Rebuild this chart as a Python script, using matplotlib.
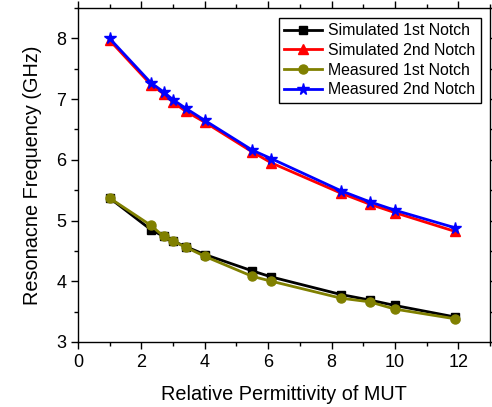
import matplotlib
matplotlib.use("Agg")
import matplotlib.pyplot as plt
from matplotlib.ticker import MultipleLocator

plt.rcParams['font.family'] = ['Liberation Sans', 'DejaVu Sans']

eps = [1, 2.3, 2.7, 3, 3.4, 4, 5.5, 6.1, 8.3, 9.2, 10, 11.9]
sim1 = [5.37, 4.85, 4.74, 4.66, 4.57, 4.44, 4.17, 4.07, 3.78, 3.69, 3.60, 3.41]
sim2 = [7.97, 7.24, 7.09, 6.95, 6.80, 6.62, 6.13, 5.95, 5.45, 5.27, 5.13, 4.82]
meas1 = [5.37, 4.92, 4.74, 4.66, 4.56, 4.41, 4.08, 4.00, 3.72, 3.66, 3.54, 3.38]
meas2 = [8.00, 7.27, 7.12, 6.99, 6.85, 6.65, 6.16, 6.02, 5.49, 5.31, 5.17, 4.88]

labels = ["Simulated 1st Notch", "Simulated 2nd Notch",
          "Measured 1st Notch", "Measured 2nd Notch"]

fig = plt.figure(figsize=(4.92, 4.07), dpi=100)
ax = fig.add_axes([0.1585, 0.160, 0.8375, 0.820])

ax.plot(eps, sim1, color='black', marker='s', ms=5.5, lw=2, label=labels[0])
ax.plot(eps, sim2, color='red', marker='^', ms=6.5, lw=2, label=labels[1])
ax.plot(eps, meas1, color='#808000', marker='o', ms=6.5, lw=2, label=labels[2])
ax.plot(eps, meas2, color='blue', marker='*', ms=8.5, lw=2, label=labels[3])

ax.set_xlim(0, 13)
ax.set_ylim(3, 8.5)
ax.xaxis.set_major_locator(MultipleLocator(2))
ax.xaxis.set_minor_locator(MultipleLocator(1))
ax.yaxis.set_major_locator(MultipleLocator(1))
ax.yaxis.set_minor_locator(MultipleLocator(0.5))
ax.tick_params(which='both', direction='out', top=True, right=True,
               labeltop=False, labelright=False, width=1, labelsize=13)
ax.tick_params(which='major', length=5)
ax.tick_params(which='minor', length=3)
for s in ax.spines.values():
    s.set_linewidth(1)

ax.set_xlabel("Relative Permittivity of MUT", fontsize=14.3, labelpad=10)
ax.set_ylabel("Resonacne Frequency (GHz)", fontsize=14.3, labelpad=10)

leg = ax.legend(loc='upper right', fontsize=11.4, frameon=True, fancybox=False,
                edgecolor='black', framealpha=1, borderpad=0.35, labelspacing=0.3,
                handlelength=2.4, handletextpad=0.35, borderaxespad=0.6)
leg.get_frame().set_linewidth(1)

fig.savefig("out.png", dpi=100)
